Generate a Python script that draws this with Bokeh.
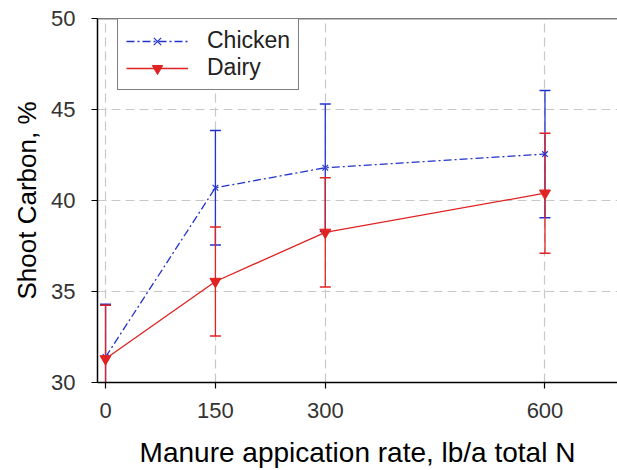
from bokeh.plotting import figure
from bokeh.models import ColumnDataSource, FixedTicker, Span
from bokeh.embed import file_html
from bokeh.resources import INLINE

rates = [0, 150, 300, 600]
chicken = [31.4, 40.7, 41.8, 42.55]
chicken_err = [2.9, 3.15, 3.5, 3.5]
dairy = [31.3, 35.55, 38.25, 40.4]
dairy_err = [2.95, 3.0, 3.0, 3.3]
x_ticks = [0, 150, 300, 600]
y_ticks = [30, 35, 40, 45, 50]

BLUE = "#2233cc"
RED = "#e02222"
FONT = "Liberation Sans"

def src(vals, errs):
    return ColumnDataSource(dict(
        x=rates, y=vals,
        upper=[v + e for v, e in zip(vals, errs)],
        lower=[v - e for v, e in zip(vals, errs)],
    ))

cs = src(chicken, chicken_err)
ds = src(dairy, dairy_err)

p = figure(width=617, height=470, output_backend="svg", toolbar_location=None,
           x_range=(-11, 699), y_range=(30, 50),
           min_border_left=97, min_border_right=0, min_border_top=18, min_border_bottom=86)
p.outline_line_color = None
p.background_fill_color = "white"
p.border_fill_color = "white"

for s, c in ((cs, BLUE), (ds, RED)):
    p.segment(x0="x", y0="lower", x1="x", y1="upper", source=s, line_color=c, line_width=1.3)
    p.scatter("x", "upper", source=s, marker="dash", size=11, line_color=c, line_width=1.5)
    p.scatter("x", "lower", source=s, marker="dash", size=11, line_color=c, line_width=1.5)

p.line("x", "y", source=cs, line_color=BLUE, line_width=1.3, line_dash="8 3 2 3", legend_label="Chicken")
p.scatter("x", "y", source=cs, marker="x", size=8, line_color=BLUE, line_width=1.2, legend_label="Chicken")
p.line("x", "y", source=ds, line_color=RED, line_width=1.3, legend_label="Dairy")
p.scatter("x", "y", source=ds, marker="inverted_triangle", size=11, fill_color=RED, line_color=RED, legend_label="Dairy")

p.add_layout(Span(location=50, dimension="width", line_color="black", line_width=1.5))

for ax in (p.xaxis[0], p.yaxis[0]):
    ax.axis_line_color = "black"
    ax.axis_line_width = 1.5
    ax.major_tick_line_color = "black"
    ax.major_tick_line_width = 1.2
    ax.major_tick_out = 6
    ax.major_tick_in = 0
    ax.minor_tick_line_color = None
    ax.major_label_text_font = FONT
    ax.major_label_text_font_size = "22px"
    ax.major_label_text_color = "#333333"
    ax.axis_label_text_font = FONT
    ax.axis_label_text_font_style = "normal"
    ax.axis_label_text_color = "black"

p.xaxis.ticker = FixedTicker(ticks=x_ticks)
p.yaxis.ticker = FixedTicker(ticks=y_ticks)
p.xaxis.axis_label = "Manure appication rate, lb/a total N"
p.yaxis.axis_label = "Shoot Carbon, %"
p.xaxis.axis_label_text_font_size = "28px"
p.yaxis.axis_label_text_font_size = "26px"
p.xaxis.major_label_standoff = 14
p.xaxis.axis_label_standoff = 16
p.yaxis.major_label_standoff = 16
p.yaxis.axis_label_standoff = 6

p.xgrid.ticker = FixedTicker(ticks=x_ticks)
p.ygrid.ticker = FixedTicker(ticks=y_ticks)
for g in (p.xgrid[0], p.ygrid[0]):
    g.grid_line_color = "#c8c8c8"
    g.grid_line_width = 1.2
    g.grid_line_dash = "9 5"

lg = p.legend[0]
lg.location = (20, 292)
lg.label_text_font = FONT
lg.label_text_font_size = "23px"
lg.label_text_color = "#222222"
lg.border_line_color = "black"
lg.border_line_width = 1.2
lg.background_fill_alpha = 1
lg.padding = 8
lg.spacing = 0
lg.margin = 0
lg.label_height = 26
lg.glyph_height = 26
lg.glyph_width = 62
lg.label_standoff = 19

open("out.html", "w").write(file_html(p, INLINE))
